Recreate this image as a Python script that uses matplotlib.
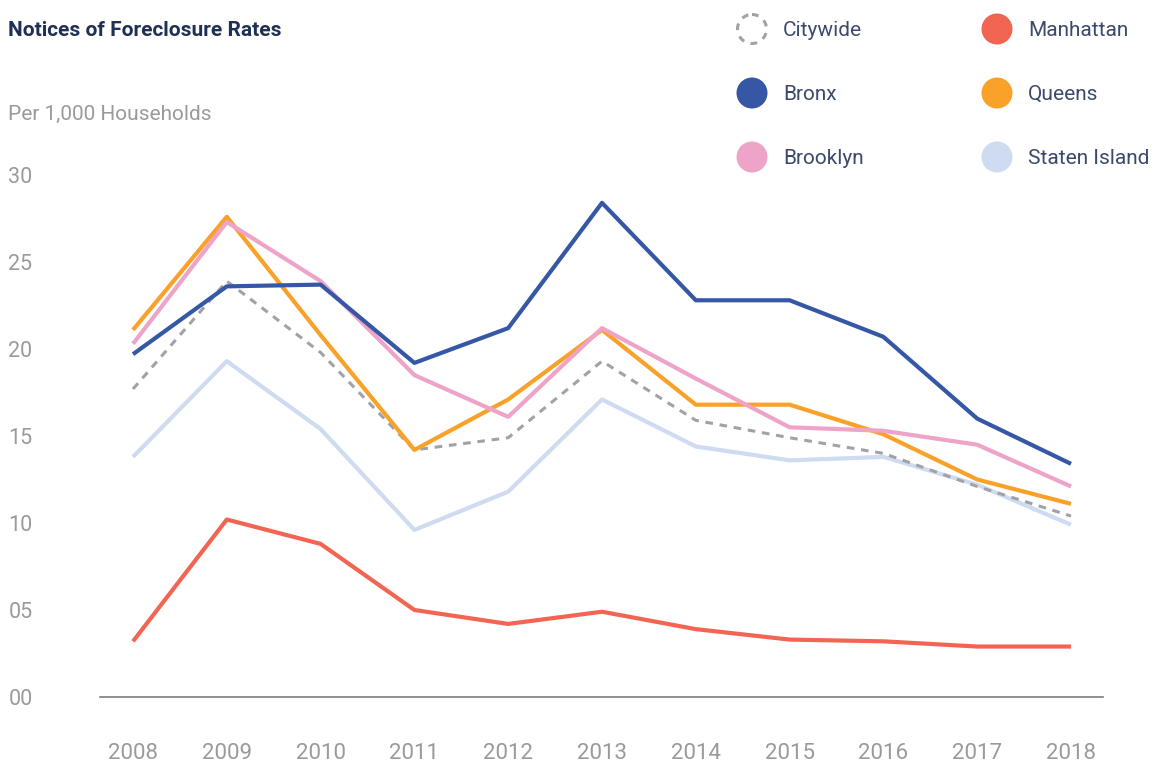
import matplotlib
matplotlib.use("Agg")
import matplotlib.pyplot as plt
from matplotlib.patches import Circle

plt.rcParams["font.family"] = ["Roboto", "DejaVu Sans"]

years = [2008, 2009, 2010, 2011, 2012, 2013, 2014, 2015, 2016, 2017, 2018]

citywide = [17.7, 23.9, 19.8, 14.2, 14.9, 19.3, 15.9, 14.9, 14.0, 12.1, 10.4]
bronx = [19.7, 23.6, 23.7, 19.2, 21.2, 28.4, 22.8, 22.8, 20.7, 16.0, 13.4]
brooklyn = [20.3, 27.3, 23.9, 18.5, 16.1, 21.2, 18.3, 15.5, 15.3, 14.5, 12.1]
manhattan = [3.2, 10.2, 8.8, 5.0, 4.2, 4.9, 3.9, 3.3, 3.2, 2.9, 2.9]
queens = [21.1, 27.6, 20.8, 14.2, 17.1, 21.1, 16.8, 16.8, 15.1, 12.5, 11.1]
staten_island = [13.8, 19.3, 15.4, 9.6, 11.8, 17.1, 14.4, 13.6, 13.8, 12.2, 9.9]

yticks = [0, 5, 10, 15, 20, 25, 30]
ytick_labels = ["00", "05", "10", "15", "20", "25", "30"]

c_city = "#a0a2a8"
c_bronx = "#3557a5"
c_brook = "#eea3c8"
c_manh = "#f26552"
c_queens = "#f9a128"
c_staten = "#cfdbf0"
grey = "#9a9a9a"
navy = "#1f3055"
slate = "#3b4a6b"

W, H = 1160, 767
fig = plt.figure(figsize=(W / 100, H / 100), dpi=100)

# plot area: 2008 -> x=133px, 2018 -> x=1071px ; y=0 -> 697px, 17.4 px per unit
x0, x1 = 100, 1103
y_bot, y_top = 697, 697 - 30.5 * 17.4
ax = fig.add_axes([x0 / W, 1 - y_bot / H, (x1 - x0) / W, (y_bot - y_top) / H])
ax.set_xlim(2008 - 33 / 93.8, 2018 + 32 / 93.8)
ax.set_ylim(0, 30.5)

lw = 3
ax.plot(years, staten_island, color=c_staten, lw=lw, solid_capstyle="butt")
ax.plot(years, citywide, color=c_city, lw=2.2, ls=(0, (2.5, 2.2)))
ax.plot(years, queens, color=c_queens, lw=lw, solid_capstyle="butt")
ax.plot(years, brooklyn, color=c_brook, lw=lw, solid_capstyle="butt")
ax.plot(years, manhattan, color=c_manh, lw=lw, solid_capstyle="butt")
ax.plot(years, bronx, color=c_bronx, lw=lw, solid_capstyle="butt")

for s in ["top", "right", "left"]:
    ax.spines[s].set_visible(False)
ax.spines["bottom"].set_color("#7d7d7d")
ax.spines["bottom"].set_linewidth(1.2)

ax.set_yticks(yticks)
ax.set_yticklabels(ytick_labels)
ax.set_xticks(years)
ax.set_xticklabels([str(y) for y in years])
ax.tick_params(axis="y", length=0, pad=66, labelsize=15.5, labelcolor=grey)
ax.tick_params(axis="x", length=0, pad=33, labelsize=16, labelcolor=grey)
for t in ax.get_yticklabels():
    t.set_ha("left")

fig.text(8 / W, 1 - 30 / H, "Notices of Foreclosure Rates", fontsize=15,
         fontweight="bold", color=navy, va="center", ha="left")
fig.text(8 / W, 1 - 114 / H, "Per 1,000 Households", fontsize=15,
         color=grey, va="center", ha="left")

# legend drawn on an overlay in pixel coordinates
lax = fig.add_axes([0, 0, 1, 1], facecolor="none")
lax.set_xlim(0, W)
lax.set_ylim(H, 0)
lax.axis("off")

legend_items = [
    ("Citywide", c_city, 752, 29, True),
    ("Bronx", c_bronx, 752, 93, False),
    ("Brooklyn", c_brook, 752, 157, False),
    ("Manhattan", c_manh, 997, 29, False),
    ("Queens", c_queens, 997, 93, False),
    ("Staten Island", c_staten, 997, 157, False),
]
for name, col, cx, cy, dashed in legend_items:
    if dashed:
        lax.add_patch(Circle((cx, cy), 14.5, facecolor="none", edgecolor=col,
                             lw=2.2, ls=(0, (2.2, 2.2))))
    else:
        lax.add_patch(Circle((cx, cy), 15.5, facecolor=col, edgecolor="none"))
    lax.text(cx + 31, cy + 1, name, fontsize=15, color=slate, va="center", ha="left")

fig.savefig("out.png", dpi=100)
